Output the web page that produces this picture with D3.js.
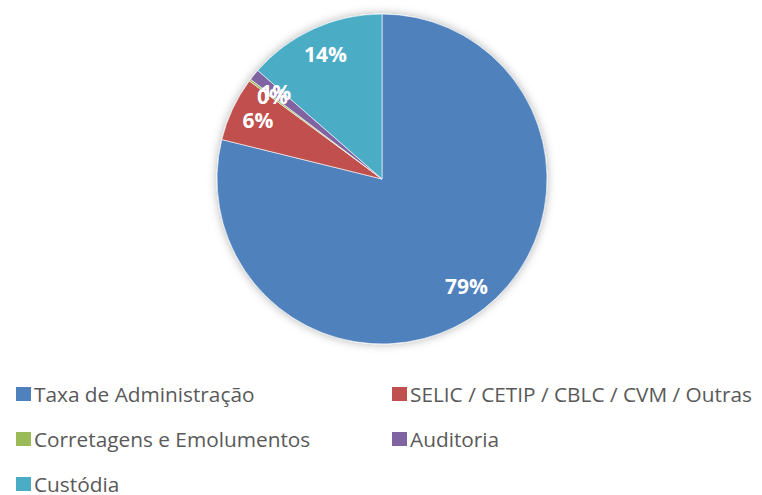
<!DOCTYPE html>
<html>
<head>
<meta charset="utf-8">
<script src="https://cdn.jsdelivr.net/npm/d3@7"></script>
<style>
  body { margin: 0; background: #fff; }
  svg { display: block; }
</style>
</head>
<body>
<svg id="drawing_region"></svg>
<script>
const categories = ['Taxa de Administração', 'SELIC / CETIP / CBLC / CVM / Outras', 'Corretagens e Emolumentos', 'Auditoria', 'Custódia'];
const values = [79.0, 6.3, 0.2, 1.1, 13.6];
const colors = ['#4F81BD', '#C0504D', '#9BBB59', '#8064A2', '#4BACC6'];

const width = 762, height = 495;
const cx = 382, cy = 179, radius = 165;
const font = "'Open Sans', sans-serif";

const data = categories.map((c, i) => ({ name: c, value: values[i], color: colors[i] }));

const svg = d3.select('#drawing_region')
    .attr('width', width)
    .attr('height', height);

const defs = svg.append('defs');
const shadow = defs.append('filter')
    .attr('id', 'shadow')
    .attr('x', '-20%').attr('y', '-20%')
    .attr('width', '140%').attr('height', '140%');
shadow.append('feDropShadow')
    .attr('dx', 0).attr('dy', 0)
    .attr('stdDeviation', 5)
    .attr('flood-color', '#000')
    .attr('flood-opacity', 0.3);

const pie = d3.pie().sort(null).value(d => d.value);
const arcs = pie(data);
const arc = d3.arc().innerRadius(0).outerRadius(radius);
const labelArc = d3.arc().innerRadius(radius * 0.83).outerRadius(radius * 0.83);

const chart = svg.append('g')
    .attr('transform', `translate(${cx}, ${cy})`);

chart.append('g')
    .attr('filter', 'url(#shadow)')
    .selectAll('path')
    .data(arcs)
    .enter()
    .append('path')
    .attr('d', arc)
    .attr('fill', d => d.data.color)
    .attr('stroke', '#fff')
    .attr('stroke-width', 0.6);

const total = d3.sum(values);
chart.selectAll('text.label')
    .data(arcs)
    .enter()
    .append('text')
    .attr('class', 'label')
    .attr('transform', d => `translate(${labelArc.centroid(d)})`)
    .attr('text-anchor', 'middle')
    .attr('dy', '0.36em')
    .style('font-family', font)
    .style('font-size', '21px')
    .style('font-weight', 'bold')
    .attr('fill', '#fff')
    .text(d => Math.round(d.data.value / total * 100) + '%');

// legend
const legendX = [16, 392];
const legendY = [394, 439, 484];
const legend = svg.append('g');
const items = legend.selectAll('g')
    .data(data)
    .enter()
    .append('g')
    .attr('transform', (d, i) => `translate(${legendX[i % 2]}, ${legendY[Math.floor(i / 2)]})`);

items.append('rect')
    .attr('x', 0).attr('y', -7)
    .attr('width', 15).attr('height', 14)
    .attr('fill', d => d.color);

items.append('text')
    .attr('x', 18)
    .attr('dy', '0.36em')
    .style('font-family', font)
    .style('font-size', '20.8px')
    .attr('fill', '#595959')
    .text(d => d.name);
</script>
</body>
</html>
